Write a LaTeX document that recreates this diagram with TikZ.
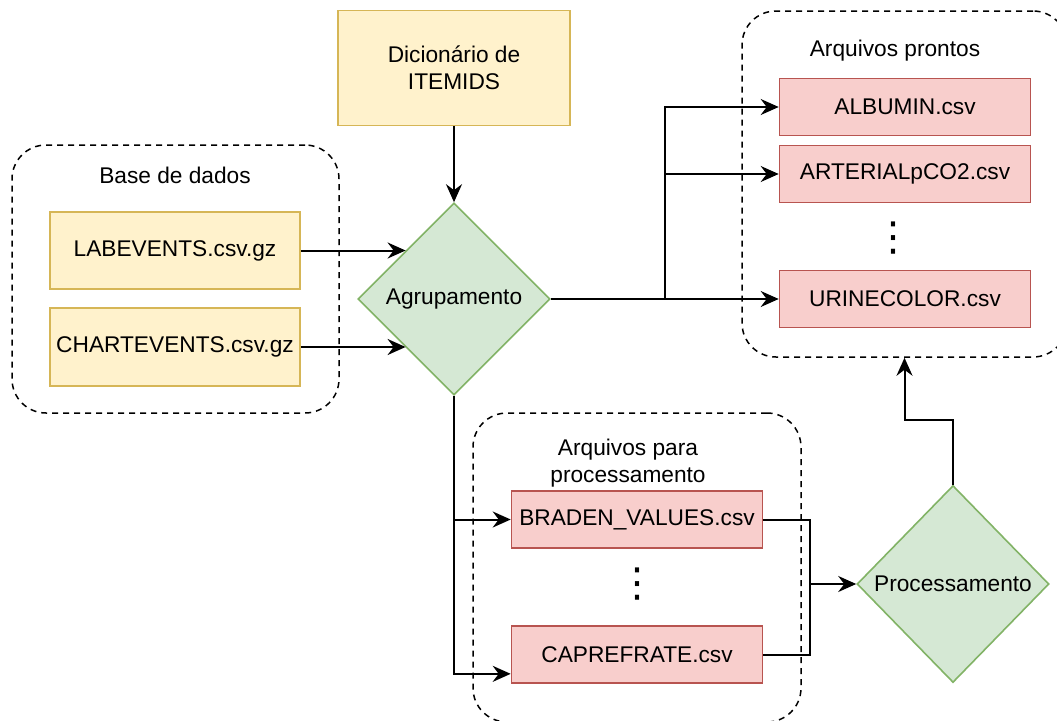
\documentclass[tikz,border=0pt]{standalone}
\usepackage{fontspec}
\setmainfont{Liberation Sans}
\newfontfamily\symfont{DejaVu Sans}
\usetikzlibrary{shapes.geometric,arrows.meta,calc}
\definecolor{yfill}{HTML}{FFF2CC}
\definecolor{ydraw}{HTML}{D6B656}
\definecolor{gfill}{HTML}{D5E8D4}
\definecolor{gdraw}{HTML}{82B366}
\definecolor{rfill}{HTML}{F8CECC}
\definecolor{rdraw}{HTML}{B85450}
\begin{document}
\begin{tikzpicture}[x=1pt,y=-1pt,
  font=\fontsize{22.7}{26.5}\selectfont,
  ybox/.style={draw=ydraw,fill=yfill,line width=1.6pt,rectangle,inner sep=0pt,align=center},
  rbox/.style={draw=rdraw,fill=rfill,line width=1.6pt,rectangle,inner sep=0pt,minimum width=251pt,minimum height=57pt},
  dec/.style={diamond,draw=gdraw,fill=gfill,line width=1.6pt,inner sep=0pt},
  group/.style={draw=black,dash pattern=on 6pt off 5pt,line width=1.5pt,rounded corners=34pt,rectangle,inner sep=0pt},
  conn/.style={draw=black,line width=2pt,-{Stealth[length=18pt,width=16pt,inset=6pt]}},
  plain/.style={draw=black,line width=2pt},
  vdots/.style={font=\symfont\fontsize{40}{40}\selectfont,inner sep=0pt}
]
\useasboundingbox (0,0) rectangle (1057,720);
\clip (0,0) rectangle (1057,720);
\fill[white] (0,0) rectangle (1057,720);

% groups
\node[group,minimum width=327pt,minimum height=268pt] (base) at (175.5,279) {};
\node[group,minimum width=325pt,minimum height=346pt] (prontos) at (904.5,184) {};
\node[group,minimum width=328pt,minimum height=309pt] (procgrp) at (637,567.5) {};

\node (baselbl) at (175,175) {Base de dados};
\node (prontoslbl) at (895,51) {Arquivos prontos};
\node[align=center] (proclbl) at (628,463) {Arquivos para\\processamento};

% boxes
\node[ybox,minimum width=232pt,minimum height=115pt] (dict) at (454,68) {Dicionário de\\ITEMIDS};
\node[ybox,minimum width=250pt,minimum height=77pt] (lab) at (175,250.5) {LABEVENTS.csv.gz};
\node[ybox,minimum width=250pt,minimum height=78pt] (chart) at (175,347) {CHARTEVENTS.csv.gz};
\node[dec,minimum width=192pt,minimum height=192pt] (agr) at (454,299) {Agrupamento};
\node[rbox] (alb) at (905,107) {ALBUMIN.csv};
\node[rbox] (art) at (905,174) {ARTERIALpCO2.csv};
\node[rbox] (uri) at (905,299) {URINECOLOR.csv};
\node[rbox] (brad) at (637,519.5) {BRADEN\_VALUES.csv};
\node[rbox] (cap) at (637,654.5) {CAPREFRATE.csv};
\node[dec,minimum width=192pt,minimum height=197pt] (proc) at (953,584) {Processamento};

\node[vdots] (dots1) at (893,238) {⋮};
\node[vdots] (dots2) at (637,584) {⋮};

% connectors
\draw[conn] (dict) -- (agr);
\coordinate (agrA) at ($(agr.west)!0.5!(agr.north)$);
\coordinate (agrB) at ($(agr.west)!0.5!(agr.south)$);
\draw[conn] (lab.east) -- (lab.east -| agrA);
\draw[conn] (chart.east) -- (chart.east -| agrB);
\coordinate (br) at (665,299);
\draw[conn] (agr.east) -- (uri.west);
\draw[conn] (br) |- (alb.west);
\draw[conn] (br) |- (art.west);
\draw[conn] (agr.south) |- (brad.west);
\coordinate (capIn) at ($(cap.south west)!0.17!(cap.north west)$);
\draw[conn] (agr.south) |- (capIn);
\coordinate (jn) at (810,584);
\draw[plain] (brad.east) -| (jn);
\draw[plain] (cap.east) -| (jn);
\draw[conn] (jn) -- (proc.west);
\draw[conn] (proc.north) -- ++(0,-65) -| (prontos.south);
\end{tikzpicture}
\end{document}
